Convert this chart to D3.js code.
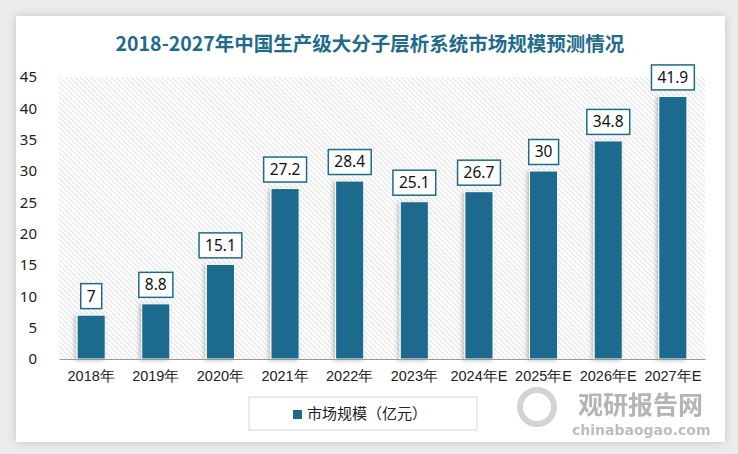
<!DOCTYPE html>
<html>
<head>
<meta charset="utf-8">
<script src="https://cdn.jsdelivr.net/npm/d3@7"></script>
<style>
  body { margin: 0; background: #ececec; }
  svg { display: block; font-family: "Noto Sans CJK SC", "Noto Sans", sans-serif; }
</style>
</head>
<body>
<div id="chart"></div>
<script>
// chart data
const years = ['2018年', '2019年', '2020年', '2021年', '2022年', '2023年', '2024年E', '2025年E', '2026年E', '2027年E'];
const marketSize = [7, 8.8, 15.1, 27.2, 28.4, 25.1, 26.7, 30, 34.8, 41.9];
const yTicks = [0, 5, 10, 15, 20, 25, 30, 35, 40, 45];
const seriesName = '市场规模（亿元）';
const chartTitle = '2018-2027年中国生产级大分子层析系统市场规模预测情况';

const W = 738, H = 454;
const margin = { top: 77, right: 33, bottom: 95, left: 59 };
const width = W - margin.left - margin.right;
const height = H - margin.top - margin.bottom;
const barColor = '#1d6a8d';

const svg = d3.select('#chart')
  .append('svg')
  .attr('width', W)
  .attr('height', H);

const defs = svg.append('defs');

// hatched plot background
const pat = defs.append('pattern')
  .attr('id', 'hatch')
  .attr('patternUnits', 'userSpaceOnUse')
  .attr('width', 3.6)
  .attr('height', 3.6)
  .attr('patternTransform', 'rotate(-45)');
pat.append('rect').attr('width', 3.6).attr('height', 3.6).attr('fill', '#ffffff');
pat.append('line')
  .attr('x1', 0).attr('y1', 0).attr('x2', 0).attr('y2', 3.6)
  .attr('stroke', '#dadada').attr('stroke-width', 1.5);

const shadow = defs.append('filter').attr('id', 'shadow')
  .attr('x', '-30%').attr('y', '-10%').attr('width', '160%').attr('height', '130%');
shadow.append('feDropShadow')
  .attr('dx', -2).attr('dy', 1).attr('stdDeviation', 2)
  .attr('flood-color', '#000').attr('flood-opacity', 0.25);

const cardShadow = defs.append('filter').attr('id', 'cardShadow')
  .attr('x', '-5%').attr('y', '-5%').attr('width', '110%').attr('height', '110%');
cardShadow.append('feDropShadow')
  .attr('dx', 0).attr('dy', 0).attr('stdDeviation', 4)
  .attr('flood-color', '#000').attr('flood-opacity', 0.18);

// white card
svg.append('rect')
  .attr('x', 16).attr('y', 16)
  .attr('width', 709).attr('height', 426)
  .attr('fill', '#ffffff')
  .attr('filter', 'url(#cardShadow)');

// title
svg.append('text')
  .attr('x', 370)
  .attr('y', 51)
  .attr('text-anchor', 'middle')
  .attr('font-size', 19.5)
  .attr('font-weight', 'bold')
  .attr('fill', '#1f6b8c')
  .text(chartTitle);

const g = svg.append('g')
  .attr('transform', 'translate(' + margin.left + ',' + margin.top + ')');

const xScale = d3.scaleBand()
  .domain(years)
  .range([0, width])
  .paddingInner(0.565)
  .paddingOuter(0.28);

const yScale = d3.scaleLinear()
  .domain([0, 45])
  .range([height, 0]);

g.append('rect')
  .attr('width', width)
  .attr('height', height)
  .attr('fill', 'url(#hatch)');

// y axis (labels only)
const yAxis = g.append('g')
  .call(d3.axisLeft(yScale).tickValues(yTicks).tickSize(0).tickPadding(22));
yAxis.select('.domain').remove();
yAxis.selectAll('text')
  .attr('font-size', 15)
  .attr('fill', '#222')
  .attr('font-family', '"Noto Sans", sans-serif');

// bars
g.selectAll('.bar')
  .data(marketSize)
  .enter()
  .append('rect')
  .attr('class', 'bar')
  .attr('x', (d, i) => xScale(years[i]))
  .attr('y', d => yScale(d))
  .attr('width', xScale.bandwidth())
  .attr('height', d => height - yScale(d))
  .attr('fill', barColor)
  .attr('stroke', '#ffffff')
  .attr('stroke-width', 1)
  .attr('filter', 'url(#shadow)');

// x axis
const xAxis = g.append('g')
  .attr('transform', 'translate(0,' + height + ')')
  .call(d3.axisBottom(xScale).tickSize(0).tickPadding(12));
xAxis.select('.domain').attr('stroke', '#999').attr('stroke-width', 1.2);
xAxis.selectAll('text')
  .attr('font-size', 14.5)
  .attr('fill', '#222');

// value labels
const labels = g.selectAll('.label')
  .data(marketSize)
  .enter()
  .append('g')
  .attr('class', 'label')
  .attr('transform', (d, i) => 'translate(' + (xScale(years[i]) + xScale.bandwidth() / 2) + ',' + (yScale(d) - 19) + ')');

labels.append('text')
  .attr('text-anchor', 'middle')
  .attr('dy', '0.35em')
  .attr('font-size', 15.5)
  .attr('fill', '#111')
  .attr('font-family', '"Noto Sans", sans-serif')
  .text(d => d);

labels.each(function() {
  const grp = d3.select(this);
  const bb = grp.select('text').node().getBBox();
  grp.insert('rect', 'text')
    .attr('x', bb.x - 6)
    .attr('y', -12.5)
    .attr('width', bb.width + 12)
    .attr('height', 25)
    .attr('fill', '#ffffff')
    .attr('stroke', barColor)
    .attr('stroke-width', 1.5);
});

// legend
const legend = svg.append('g').attr('transform', 'translate(249,397)');
legend.append('rect')
  .attr('width', 228).attr('height', 33)
  .attr('fill', '#ffffff')
  .attr('stroke', '#d5d5d5');
legend.append('rect')
  .attr('x', 44).attr('y', 13)
  .attr('width', 9).attr('height', 9)
  .attr('fill', barColor);
legend.append('text')
  .attr('x', 58).attr('y', 17)
  .attr('dy', '0.35em')
  .attr('font-size', 15)
  .attr('fill', '#222')
  .text(seriesName);

// watermark
const wm = svg.append('g').attr('opacity', 0.55);
wm.append('circle')
  .attr('cx', 537).attr('cy', 407).attr('r', 17)
  .attr('fill', 'none').attr('stroke', '#b0b0b0').attr('stroke-width', 6);
wm.append('text')
  .attr('x', 578).attr('y', 414)
  .attr('font-size', 25).attr('font-weight', 'bold')
  .attr('fill', '#777')
  .text('观研报告网');
wm.append('text')
  .attr('x', 572).attr('y', 435)
  .attr('font-size', 14).attr('font-weight', 'bold')
  .attr('fill', '#888')
  .attr('font-family', '"DejaVu Sans", sans-serif')
  .text('chinabaogao.com');
</script>
</body>
</html>
